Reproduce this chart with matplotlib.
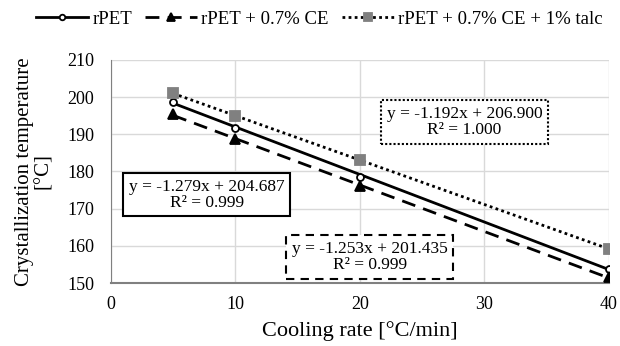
import numpy as np
import matplotlib.pyplot as plt

plt.rcParams["font.family"] = ["Liberation Serif", "DejaVu Serif"]

cooling_rate = [5, 10, 20, 40]
tc_rpet = [198.8, 191.8, 178.6, 153.9]
tc_ce = [195.4, 188.6, 176.1, 151.5]
tc_talc = [201.0, 195.0, 183.0, 159.2]

labels = ["rPET", "rPET + 0.7% CE", "rPET + 0.7% CE + 1% talc"]
eq_text = [
    "y = -1.279x + 204.687\nR\u00b2 = 0.999",
    "y = -1.253x + 201.435\nR\u00b2 = 0.999",
    "y = -1.192x + 206.900\nR\u00b2 = 1.000",
]

fig = plt.figure(figsize=(6.2, 3.46), dpi=100)
ax = fig.add_axes([0.179, 0.182, 0.803, 0.645])

styles = [
    dict(ls="-", marker="o", mfc="white", mec="black", ms=5, color="black", lw=2),
    dict(ls=(0, (5, 3)), marker="^", mfc="black", mec="black", ms=7, color="black", lw=2),
    dict(ls=(0, (1, 1.2)), marker="s", mfc="#808080", mec="#808080", ms=7, color="black", lw=2),
]
series = [tc_rpet, tc_ce, tc_talc]

x = np.array(cooling_rate, dtype=float)
handles = []
for ys, st, lab in zip(series, styles, labels):
    # linear trendline through the points
    k, b = np.polyfit(x, ys, 1)
    xf = np.array([x.min(), x.max()])
    ax.plot(xf, k * xf + b, ls=st["ls"], color=st["color"], lw=st["lw"], zorder=2)
    ax.plot(x, ys, ls="none", marker=st["marker"], mfc=st["mfc"], mec=st["mec"],
            ms=st["ms"], mew=1.3, zorder=3)
    h, = ax.plot([], [], ls=st["ls"], color=st["color"], lw=st["lw"], marker=st["marker"],
                 mfc=st["mfc"], mec=st["mec"], ms=st["ms"] - 1, mew=1.3)
    handles.append(h)

ax.set_xlim(0, 40)
ax.set_ylim(150, 210)
ax.set_xticks([0, 10, 20, 30, 40])
ax.set_yticks(range(150, 211, 10))
ax.grid(True, color="#d9d9d9", lw=1)
ax.set_axisbelow(True)
for s in ["top", "right"]:
    ax.spines[s].set_visible(False)
ax.spines["left"].set_color("#808080")
ax.spines["bottom"].set_color("#808080")
ax.spines["bottom"].set_linewidth(1.5)
ax.tick_params(length=0, labelsize=13)
ax.tick_params(axis="x", pad=9)
ax.tick_params(axis="y", pad=12)

ax.set_xlabel("Cooling rate [\u00b0C/min]", fontsize=16, labelpad=6)
ax.set_ylabel("Crystallization temperature\n[\u00b0C]", fontsize=15, labelpad=10, linespacing=1.0)

box_pos = [(7.7, 173.7), (20.8, 157.0), (28.4, 193.3)]
box_ls = ["-", (0, (4, 3)), (0, (1, 1))]
for (bx, by), t, bls in zip(box_pos, eq_text, box_ls):
    ax.text(bx, by, t, ha="center", va="center", fontsize=12.5, linespacing=1.0,
            bbox=dict(boxstyle="square,pad=0.32", fc="white", ec="black", lw=1.5, ls=bls),
            zorder=4)

fig.legend(handles, labels, loc="center", bbox_to_anchor=(0.515, 0.945), ncol=3, frameon=False,
           fontsize=13.5, handlelength=2.8, handletextpad=0.2, columnspacing=0.7)

fig.savefig("out.png", dpi=100)
